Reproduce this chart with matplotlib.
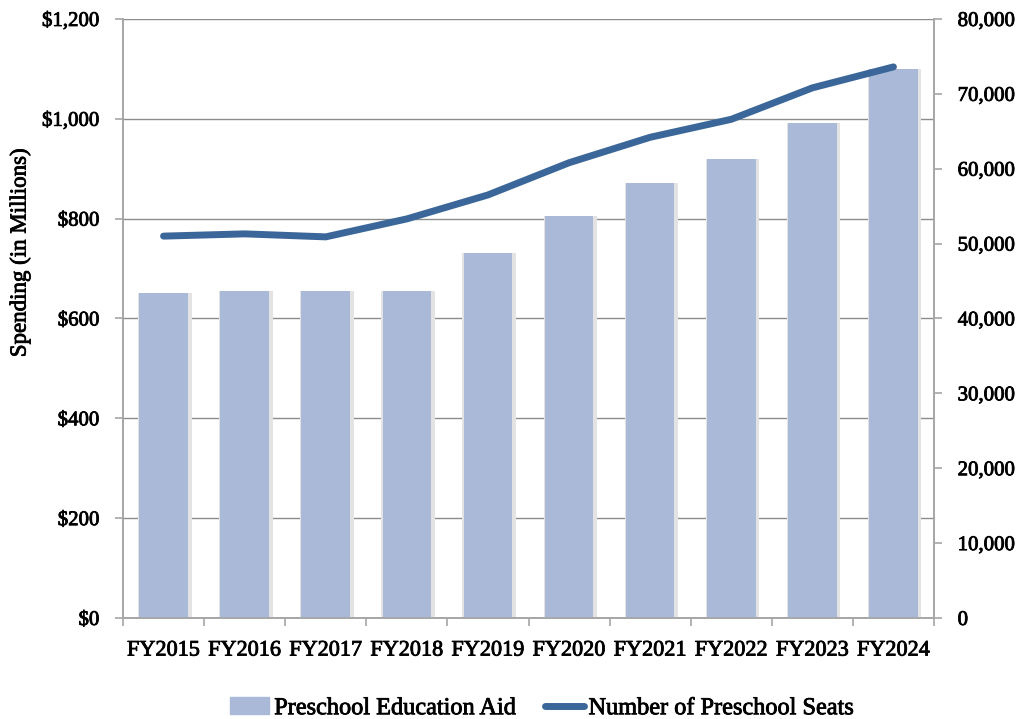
import numpy as np
import matplotlib.pyplot as plt
import matplotlib.patheffects as pe
from matplotlib.patches import Patch
from matplotlib.lines import Line2D

plt.rcParams['font.family'] = ['Liberation Serif', 'DejaVu Serif']

years = ["FY2015", "FY2016", "FY2017", "FY2018", "FY2019",
         "FY2020", "FY2021", "FY2022", "FY2023", "FY2024"]
aid = [651, 655, 655, 655, 731, 805, 871, 919, 992, 1100]
seats = [51000, 51300, 50900, 53300, 56500, 60800, 64200, 66600, 70800, 73600]

bar_color = "#A9B9D7"
line_color = "#3B6699"
grid_color = "#A6A6A6"
thick = [pe.withStroke(linewidth=0.6, foreground="black")]

fig = plt.figure(figsize=(10.19, 7.19), dpi=100)
ax = fig.add_axes([0.1207, 0.1405, 0.7959, 0.8331])
ax2 = ax.twinx()

x = np.arange(len(years))
# soft shadow around bars
ax.bar(x + 0.015, aid, width=0.66, color="#E3E3E3", zorder=2)
ax.bar(x, aid, width=0.6, color=bar_color, zorder=3)

ax2.plot(x, seats, color=line_color, lw=5, solid_capstyle='round', zorder=4)

ax.set_xlim(-0.5, len(years) - 0.5)
ax.set_ylim(0, 1200)
ax.set_yticks(range(0, 1201, 200))
ax.set_yticklabels(["${:,}".format(v) for v in range(0, 1201, 200)])
ax2.set_ylim(0, 80000)
ax2.set_yticks(range(0, 80001, 10000))
ax2.set_yticklabels(["{:,}".format(v) for v in range(0, 80001, 10000)])

ax.set_xticks(x)
ax.set_xticklabels(years)
ax.set_xticks(np.arange(-0.5, len(years)), minor=True)
ax.tick_params(axis='x', which='major', length=0, pad=17, labelsize=16)
ax.tick_params(axis='x', which='minor', length=6, direction='out', color=grid_color, width=1.2)
ax.tick_params(axis='y', length=6, direction='out', color=grid_color, width=1.2, labelsize=15, pad=11)
ax2.tick_params(axis='y', length=6, direction='out', color=grid_color, width=1.2, labelsize=15, pad=11)

for lab in ax.get_xticklabels() + ax.get_yticklabels() + ax2.get_yticklabels():
    lab.set_path_effects(thick)

ax.yaxis.grid(True, color="#8C8C8C", lw=1)
ax.set_axisbelow(True)

for a in (ax, ax2):
    a.spines['top'].set_visible(False)
    for s in ('left', 'right', 'bottom'):
        a.spines[s].set_color(grid_color)
        a.spines[s].set_linewidth(1.2)

ax.set_ylabel("Spending (in Millions)", fontsize=16.5, path_effects=thick)
ax.yaxis.set_label_coords(-0.114, 0.609)

handles = [Patch(color=bar_color), Line2D([0], [0], color=line_color, lw=5, solid_capstyle='round')]
leg = fig.legend(handles, ["Preschool Education Aid", "Number of Preschool Seats"],
                 loc='center', bbox_to_anchor=(0.532, 0.015), ncol=2, frameon=False,
                 fontsize=17.5, handlelength=1.6, handletextpad=0.2, columnspacing=1.2)
for t in leg.get_texts():
    t.set_path_effects(thick)

fig.savefig("out.png", dpi=100)
